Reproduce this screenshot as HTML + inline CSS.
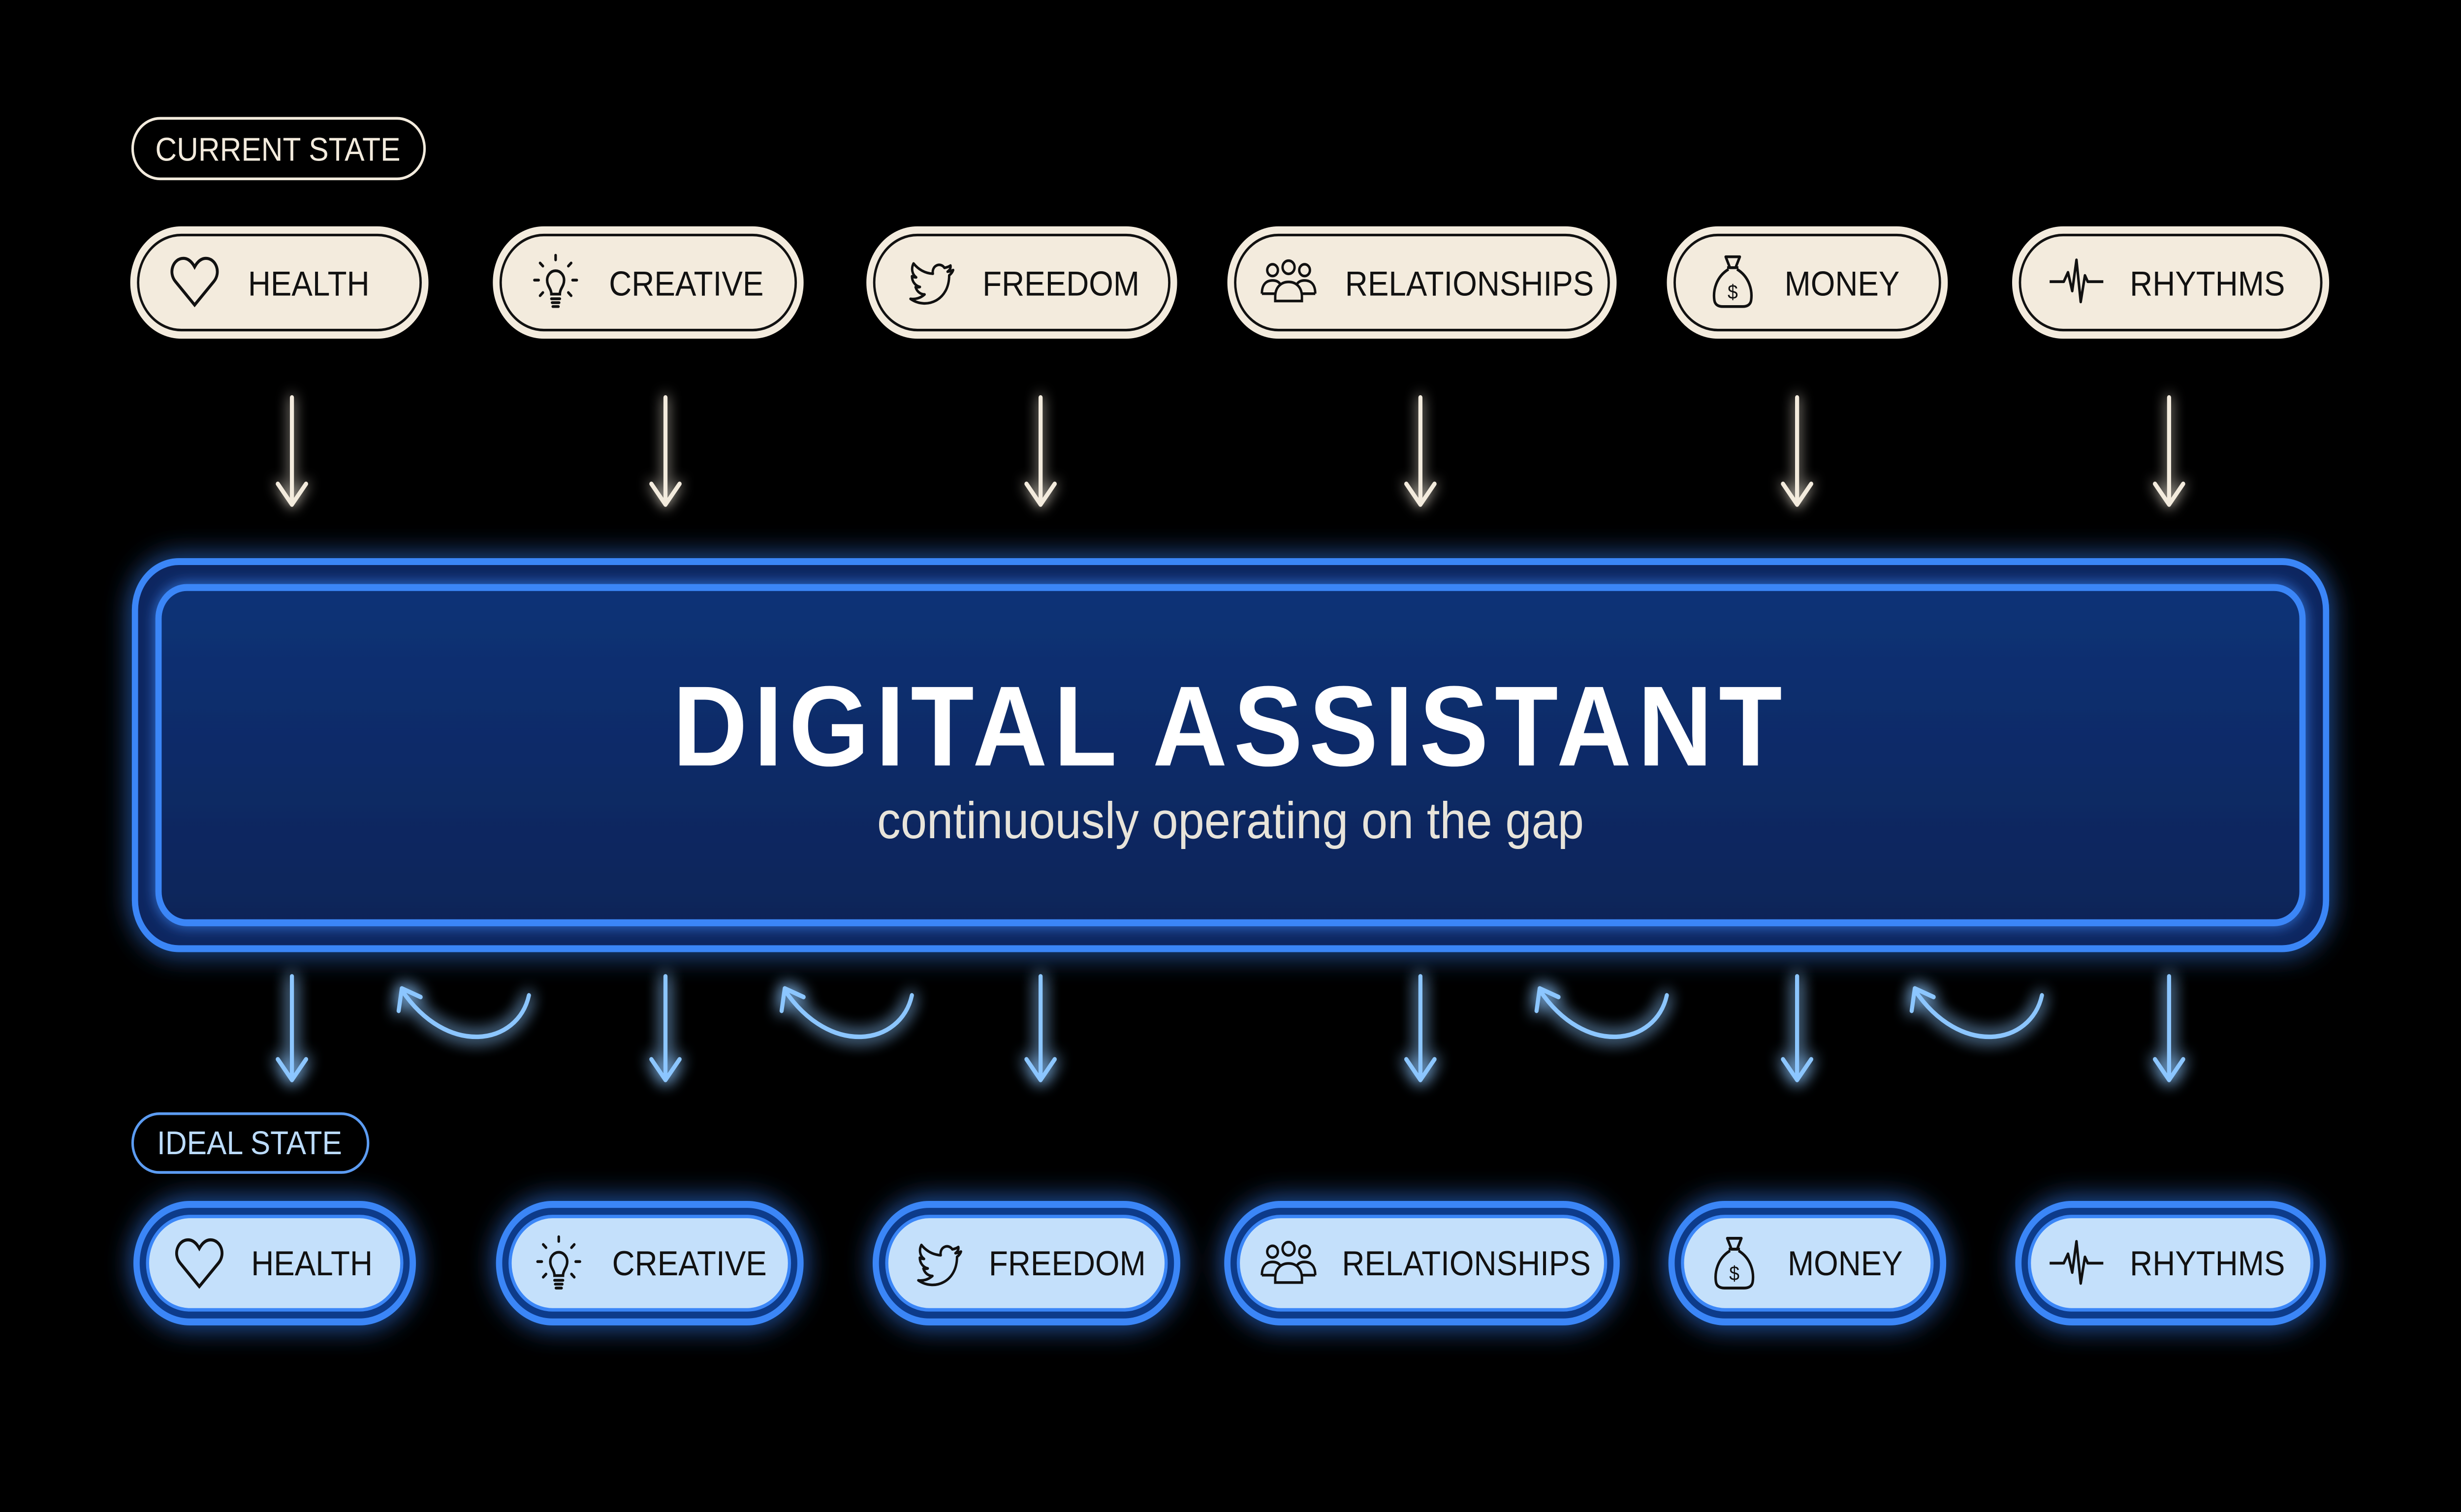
<!DOCTYPE html>
<html><head><meta charset="utf-8"><style>
html,body{margin:0;padding:0;background:#000;width:100%;height:100%;overflow:hidden}
svg{display:block;width:100vw;height:100vh;position:absolute;left:0;top:0}
text{font-family:"Liberation Sans",Arial,sans-serif}
</style></head><body>
<svg viewBox="0 0 1568 875" preserveAspectRatio="none" xmlns="http://www.w3.org/2000/svg">
<defs>
<filter id="glow" x="-50%" y="-50%" width="200%" height="200%">
<feGaussianBlur stdDeviation="5" result="b"/><feMerge><feMergeNode in="b"/><feMergeNode in="b"/><feMergeNode in="SourceGraphic"/></feMerge></filter>
<filter id="glow2" x="-20%" y="-40%" width="140%" height="180%">
<feGaussianBlur stdDeviation="8" result="b"/><feMerge><feMergeNode in="b"/><feMergeNode in="SourceGraphic"/></feMerge></filter>
<filter id="sglow" x="-100%" y="-30%" width="300%" height="160%">
<feGaussianBlur stdDeviation="4" result="b"/><feMerge><feMergeNode in="b"/><feMergeNode in="SourceGraphic"/></feMerge></filter>
<linearGradient id="boxg" x1="0" y1="0" x2="0" y2="1"><stop offset="0" stop-color="#0f3277"/><stop offset="1" stop-color="#0a2458"/></linearGradient>
<symbol id="heart" viewBox="0 0 40 40"><path d="M20 35 L6.5 20 C1 14 5 5 12 5 C16 5 18.5 8 20 10.5 C21.5 8 24 5 28 5 C35 5 39 14 33.5 20 Z" fill="none" stroke="#111" stroke-width="2"/></symbol>
<symbol id="bulb" viewBox="0 0 40 40"><g fill="none" stroke="#111" stroke-width="1.8" stroke-linecap="round"><path d="M14 19 a6 6 0 1 1 12 0 c0 4 -3 5.5 -3 9 h-6 c0 -3.5 -3 -5 -3 -9z"/><path d="M17 31 h6 M17.5 33.5 h5 M18 36 h4"/><path d="M20 3 v3 M9 8 l2 2 M31 8 l-2 2 M5 19 h3 M32 19 h3 M9 29 l2 -2 M31 29 l-2 -2"/></g></symbol>
<symbol id="bird" viewBox="0 0 40 40"><path d="M36 9 C34.5 10 33 10.3 31.5 10.6 C30 8.6 27.5 8 25.5 9 C23.3 10 22.3 12.3 22.8 14.6 C16.8 14.3 11.8 11.6 8.3 7.6 C6.3 11.1 7.3 15.1 10.3 17.1 C9.1 17.1 8 16.8 7.1 16.3 C7.1 19.9 9.6 22.8 13.1 23.6 C12.1 23.9 10.9 23.9 9.8 23.7 C10.8 26.7 13.5 28.7 16.6 28.7 C13.6 31.1 9.8 32.2 6 31.7 C18 39.2 35 32.7 35 15.7 C36.5 14.7 37.5 13.5 38 12.1 C36.6 12.7 35.2 13.1 33.8 13.2 C35.3 12.3 36.3 10.9 36 9 Z" fill="none" stroke="#111" stroke-width="1.8" stroke-linejoin="round"/></symbol>
<symbol id="people" viewBox="0 0 44 40"><g fill="none" stroke="#111" stroke-width="1.8"><circle cx="10" cy="11" r="4"/><circle cx="22" cy="9" r="4.5"/><circle cx="34" cy="11" r="4"/><path d="M2 27 c0-6 3-9 8-9 c3 0 5 1 6 3"/><path d="M42 27 c0-6 -3-9 -8-9 c-3 0 -5 1 -6 3"/><path d="M12 32 v-3 c0-6 4-10 10-10 s10 4 10 10 v3 z"/><path d="M2 27 h10 M32 27 h10"/></g></symbol>
<symbol id="bag" viewBox="0 0 40 40"><g fill="none" stroke="#111" stroke-width="1.8" stroke-linejoin="round"><path d="M15 4 h10 l-3 7 h-4 z"/><path d="M16 11 h8"/><path d="M17 12 C8 17 6 26 7 32 c0.5 3 3 4 6 4 h14 c3 0 5.5 -1 6 -4 c1 -6 -1 -15 -10 -20"/></g><text x="20" y="31" text-anchor="middle" font-size="13" fill="#111" font-family="Liberation Sans,sans-serif">$</text></symbol>
<symbol id="pulse" viewBox="0 0 40 40"><polyline points="1,20 11,20 14,14 17,26 20,6 23,33 26,16 28,20 39,20" fill="none" stroke="#111" stroke-width="1.8" stroke-linejoin="round"/></symbol>
</defs>
<rect width="1568" height="875" fill="#000"/>

<rect x="84.5" y="68.5" width="186" height="35" rx="17.5" fill="none" stroke="#f3ebdd" stroke-width="1.6"/>
<text x="177" y="93" text-anchor="middle" font-size="19" fill="#f3ebdd">CURRENT STATE</text>

<g>
<g fill="#f3ebdd" stroke="#f3ebdd" stroke-width="2">
<rect x="84" y="132" width="188" height="63" rx="31.5"/>
<rect x="315" y="132" width="196" height="63" rx="31.5"/>
<rect x="553" y="132" width="196" height="63" rx="31.5"/>
<rect x="783" y="132" width="246" height="63" rx="31.5"/>
<rect x="1063" y="132" width="177" height="63" rx="31.5"/>
<rect x="1283" y="132" width="200" height="63" rx="31.5"/>
</g>
<g fill="none" stroke="#111" stroke-width="1.5">
<rect x="88" y="136" width="180" height="55" rx="27.5"/>
<rect x="319" y="136" width="188" height="55" rx="27.5"/>
<rect x="557" y="136" width="188" height="55" rx="27.5"/>
<rect x="787" y="136" width="238" height="55" rx="27.5"/>
<rect x="1067" y="136" width="169" height="55" rx="27.5"/>
<rect x="1287" y="136" width="192" height="55" rx="27.5"/>
</g>
<g font-size="20" fill="#111">
<text x="158" y="171">HEALTH</text>
<text x="388" y="171">CREATIVE</text>
<text x="626" y="171">FREEDOM</text>
<text x="857" y="171">RELATIONSHIPS</text>
<text x="1137" y="171">MONEY</text>
<text x="1357" y="171">RHYTHMS</text>
</g>
<use href="#heart" x="106" y="145" width="36" height="36"/>
<use href="#bulb" x="336" y="145" width="36" height="36"/>
<use href="#bird" x="575" y="146" width="34" height="34"/>
<use href="#people" x="800" y="147" width="42" height="34"/>
<use href="#bag" x="1086" y="144" width="36" height="38"/>
<use href="#pulse" x="1303" y="145" width="40" height="36"/>
</g>

<g stroke="#f3ebdd" stroke-width="2.6" fill="none" stroke-linecap="round" stroke-linejoin="round" filter="url(#sglow)">
<path d="M186 230 V292 M177 280 L186 292 L195 280"/>
<path d="M424 230 V292 M415 280 L424 292 L433 280"/>
<path d="M663 230 V292 M654 280 L663 292 L672 280"/>
<path d="M905 230 V292 M896 280 L905 292 L914 280"/>
<path d="M1145 230 V292 M1136 280 L1145 292 L1154 280"/>
<path d="M1382 230 V292 M1373 280 L1382 292 L1391 280"/>
</g>

<g filter="url(#glow2)">
<rect x="86" y="325" width="1396" height="224" rx="28" fill="#0b2560" stroke="#3b86f7" stroke-width="4"/>
</g>
<rect x="101" y="340" width="1366" height="194" rx="18" fill="url(#boxg)" stroke="#3b86f7" stroke-width="4" filter="url(#sglow)"/>
<text x="784" y="443" text-anchor="middle" font-size="66" font-weight="bold" letter-spacing="4" fill="#ffffff">DIGITAL ASSISTANT</text>
<text x="784" y="485" text-anchor="middle" font-size="30" fill="#e8e4da">continuously operating on the gap</text>

<g stroke="#8cc6ff" stroke-width="2.6" fill="none" stroke-linecap="round" stroke-linejoin="round" filter="url(#glow)">
<path d="M186 565 V625 M177 613 L186 625 L195 613"/>
<path d="M424 565 V625 M415 613 L424 625 L433 613"/>
<path d="M663 565 V625 M654 613 L663 625 L672 613"/>
<path d="M905 565 V625 M896 613 L905 625 L914 613"/>
<path d="M1145 565 V625 M1136 613 L1145 625 L1154 613"/>
<path d="M1382 565 V625 M1373 613 L1382 625 L1391 613"/>
<path d="M337 576 C330 605 285 612 256 573 M254 585 L256 572 L268 577"/>
<path d="M581 576 C574 605 529 612 500 573 M498 585 L500 572 L512 577"/>
<path d="M1062 576 C1055 605 1010 612 981 573 M979 585 L981 572 L993 577"/>
<path d="M1301 576 C1294 605 1249 612 1220 573 M1218 585 L1220 572 L1232 577"/>
</g>

<rect x="84.5" y="644.5" width="150" height="34" rx="17" fill="#000" stroke="#5c9cf2" stroke-width="1.6"/>
<text x="159" y="668" text-anchor="middle" font-size="19" fill="#bcdcff">IDEAL STATE</text>

<g filter="url(#glow2)" fill="#0c3a8a" stroke="#3b86f7" stroke-width="4">
<rect x="87" y="697" width="176" height="68" rx="34"/>
<rect x="318" y="697" width="192" height="68" rx="34"/>
<rect x="558" y="697" width="192" height="68" rx="34"/>
<rect x="782" y="697" width="248" height="68" rx="34"/>
<rect x="1065" y="697" width="173" height="68" rx="34"/>
<rect x="1286" y="697" width="194" height="68" rx="34"/>
</g>
<g fill="#c4e0fb" stroke="#3b86f7" stroke-width="2">
<rect x="94" y="704" width="162" height="54" rx="27"/>
<rect x="325" y="704" width="178" height="54" rx="27"/>
<rect x="565" y="704" width="178" height="54" rx="27"/>
<rect x="789" y="704" width="234" height="54" rx="27"/>
<rect x="1072" y="704" width="159" height="54" rx="27"/>
<rect x="1293" y="704" width="180" height="54" rx="27"/>
</g>
<g font-size="20" fill="#111">
<text x="160" y="738">HEALTH</text>
<text x="390" y="738">CREATIVE</text>
<text x="630" y="738">FREEDOM</text>
<text x="855" y="738">RELATIONSHIPS</text>
<text x="1139" y="738">MONEY</text>
<text x="1357" y="738">RHYTHMS</text>
</g>
<use href="#heart" x="109" y="713" width="36" height="36"/>
<use href="#bulb" x="338" y="713" width="36" height="36"/>
<use href="#bird" x="580" y="714" width="34" height="34"/>
<use href="#people" x="800" y="715" width="42" height="34"/>
<use href="#bag" x="1087" y="712" width="36" height="38"/>
<use href="#pulse" x="1303" y="713" width="40" height="36"/>
</svg>
</body></html>
